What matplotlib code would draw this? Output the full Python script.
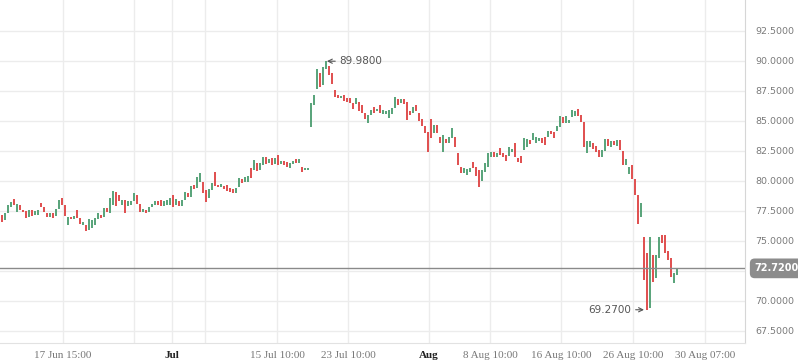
import matplotlib
matplotlib.use('Agg')
import matplotlib.pyplot as plt
import numpy as np

# candle data (one bar every ~3 px)
opens = [77.2, 76.75, 77.3, 77.8, 78.5, 77.4, 78.0, 77.6, 77.5, 77.0,
         77.6, 77.2, 77.2, 78.2, 77.8, 77.3, 77.0, 77.3, 77.1, 77.7,
         78.6, 78.0, 76.3, 77.0, 76.8, 77.6, 76.9, 76.3, 76.3, 75.9,
         76.1, 76.3, 76.8, 77.2, 77.0, 77.75, 77.3, 78.0, 79.1, 78.8,
         78.0, 78.4, 77.9, 78.0, 78.3, 78.8, 78.1, 77.4, 77.6, 77.4,
         77.8, 78.0, 78.3, 78.4, 77.9, 78.0, 78.0, 78.8, 78.0, 78.3,
         77.9, 78.4, 79.0, 78.7, 79.7, 79.4, 79.9, 79.9, 79.25, 78.6,
         79.25, 80.75, 79.7, 79.5, 79.6, 79.7, 79.4, 79.3, 79.0, 79.5,
         80.2, 79.9, 79.9, 81.1, 80.9, 81.5, 80.9, 81.3, 82.0, 81.5,
         81.9, 81.4, 82.2, 81.4, 81.7, 81.6, 81.1, 81.4, 81.8, 81.5,
         81.2, 80.9, 80.95, 84.5, 86.3, 87.7, 89.0, 88.0, 89.3, 89.6,
         89.0, 87.6, 87.2, 86.9, 87.2, 86.9, 86.9, 86.5, 86.4, 86.6,
         86.3, 85.7, 84.8, 85.5, 86.2, 85.8, 86.3, 85.6, 85.6, 85.25,
         85.6, 86.1, 86.8, 86.5, 86.8, 86.6, 85.8, 85.7, 86.3, 85.7,
         85.2, 84.6, 84.1, 85.2, 84.0, 84.7, 83.7, 82.4, 83.5, 83.2,
         83.6, 83.7, 82.3, 81.2, 80.7, 80.5, 80.75, 81.6, 81.2, 80.9,
         80.0, 80.75, 81.2, 82.0, 82.4, 82.0, 82.75, 82.3, 82.2, 82.1,
         82.4, 83.2, 81.9, 82.1, 82.6, 82.8, 83.4, 83.4, 83.2, 83.3,
         83.6, 83.7, 83.7, 84.2, 84.1, 84.2, 84.5, 85.3, 84.8, 84.8,
         85.3, 85.4, 86.0, 85.5, 84.9, 82.3, 82.8, 83.2, 82.9, 82.6,
         82.0, 82.5, 83.5, 82.8, 83.3, 82.9, 83.4, 82.5, 81.3, 80.6,
         81.3, 80.2, 78.8, 77.0, 75.3, 74.0, 69.4, 73.8, 71.9, 73.6,
         75.5, 75.5, 74.2, 73.6, 71.5, 72.2]

closes = [76.6, 77.3, 78.0, 78.25, 78.0, 78.1, 77.6, 77.4, 76.9, 77.6,
          77.1, 77.5, 77.6, 77.8, 77.4, 77.0, 77.3, 76.9, 77.7, 78.4,
          78.0, 77.1, 77.0, 76.8, 77.1, 76.9, 76.4, 76.6, 75.8, 76.8,
          76.75, 76.9, 77.3, 76.9, 77.75, 77.4, 78.6, 79.2, 77.9, 78.3,
          78.4, 77.3, 78.3, 78.3, 79.0, 78.1, 77.4, 77.7, 77.3, 77.8,
          78.1, 78.3, 78.0, 77.9, 78.3, 78.4, 78.6, 77.8, 78.5, 77.9,
          78.4, 79.1, 78.7, 79.6, 79.3, 80.3, 80.7, 79.0, 78.25, 79.3,
          79.8, 79.6, 79.5, 79.75, 79.3, 79.2, 79.1, 79.0, 79.4, 80.25,
          79.8, 80.3, 80.4, 80.25, 81.75, 80.8, 81.5, 82.0, 81.4, 81.8,
          81.3, 81.9, 81.3, 81.7, 81.3, 81.2, 81.5, 81.7, 81.5, 81.8,
          80.75, 81.1, 81.1, 86.5, 87.2, 89.3, 87.8, 89.5, 89.98, 88.8,
          88.1, 87.0, 86.9, 87.1, 86.7, 86.6, 86.5, 86.0, 86.9, 85.8,
          85.7, 85.2, 85.5, 85.9, 85.7, 86.0, 85.7, 85.9, 85.8, 85.9,
          86.1, 87.0, 86.3, 86.8, 86.4, 85.1, 85.5, 86.2, 85.8, 85.0,
          84.6, 84.0, 82.4, 83.6, 84.7, 84.0, 83.2, 83.8, 83.2, 83.7,
          84.4, 82.8, 81.3, 80.7, 81.1, 81.0, 81.1, 81.1, 80.4, 79.5,
          80.9, 81.5, 82.3, 82.4, 82.0, 82.3, 82.2, 82.0, 81.7, 82.8,
          82.7, 82.0, 81.6, 81.5, 83.6, 83.5, 83.1, 84.0, 83.7, 83.6,
          83.2, 83.0, 84.2, 83.9, 83.6, 84.6, 85.4, 84.8, 85.4, 85.1,
          85.9, 85.8, 85.4, 84.9, 82.8, 83.3, 83.3, 82.7, 82.4, 82.0,
          82.6, 83.5, 82.9, 83.3, 83.0, 83.4, 82.6, 81.3, 81.8, 81.2,
          80.2, 78.8, 76.4, 78.2, 71.75, 69.27, 75.3, 71.6, 73.8, 75.3,
          74.8, 74.0, 73.4, 72.0, 72.3, 72.72]

tick_pos = [20.3, 44, 56.7, 67.7, 91.7, 115.3, 142.3, 162.7, 186.3, 210.3, 234.3]
tick_labels = ['17 Jun 15:00', '', 'Jul', '', '15 Jul 10:00', '23 Jul 10:00',
               'Aug', '8 Aug 10:00', '16 Aug 10:00', '26 Aug 10:00', '30 Aug 07:00']
y_ticks = [67.5, 70.0, 72.5, 75.0, 77.5, 80.0, 82.5, 85.0, 87.5, 90.0, 92.5]
last_price = 72.72
high_idx, high_val = 108, 89.98
low_idx, low_val = 215, 69.27

verde = '#5ba57c'
vermelho = '#e05252'

o = np.array(opens)
c = np.array(closes)
x = np.arange(len(o))
cores = [verde if cc >= oo else vermelho for oo, cc in zip(o, c)]
altura = np.maximum(np.abs(c - o), 0.12)
base = np.minimum(o, c)

fig = plt.figure(figsize=(7.98, 3.63), dpi=100)
ax = fig.add_axes([0, 20 / 363, 745 / 798, 343 / 363])

ax.bar(x, altura, bottom=base, width=0.5, color=cores, linewidth=0, zorder=3)

ax.set_xlim(-0.67, 247.67)
ax.set_ylim(66.5, 95.08)

# o rotulo 72.5 fica escondido atras da caixa do ultimo preco
ax.set_yticks(y_ticks)
ax.set_yticklabels(['' if abs(v - last_price) < 1 else f'{v:.4f}' for v in y_ticks])
ax.yaxis.tick_right()
ax.tick_params(axis='y', length=0, pad=7.5, labelsize=6.8, labelcolor='#7a7a7a')

ax.set_xticks(tick_pos)
ax.set_xticklabels(tick_labels)
ax.tick_params(axis='x', length=0, pad=6)
for lbl in ax.get_xticklabels():
    lbl.set_fontfamily('Liberation Serif')
    lbl.set_fontsize(8)
    if lbl.get_text() in ('Jul', 'Aug'):
        lbl.set_fontweight('bold')
        lbl.set_color('#222222')
    else:
        lbl.set_color('#777777')

ax.grid(True, color='#ececec', linewidth=1, zorder=0)
for lado in ['top', 'left']:
    ax.spines[lado].set_visible(False)
ax.spines['right'].set_color('#d6d6d6')
ax.spines['bottom'].set_color('#e2e2e2')

# linha do ultimo preco
ax.axhline(last_price, color='#8a8a8a', linewidth=1, zorder=4)
ax.annotate(f'{last_price:.4f}', xy=(1.0, last_price), xycoords=('axes fraction', 'data'),
            xytext=(7, 0), textcoords='offset points', ha='left', va='center',
            fontsize=7, fontweight='bold', color='white', annotation_clip=False,
            bbox=dict(boxstyle='round,pad=0.5,rounding_size=0.5', facecolor='#8c8c8c',
                      edgecolor='none'))

# maxima e minima
ax.annotate(f'{high_val:.4f}', xy=(high_idx + 0.3, high_val), xytext=(9, 0),
            textcoords='offset points', ha='left', va='center', fontsize=7.5,
            color='#555555',
            arrowprops=dict(arrowstyle='->', color='#555555', lw=0.8,
                            shrinkA=1, shrinkB=0))
ax.annotate(f'{low_val:.4f}', xy=(low_idx - 1.0, low_val), xytext=(-9, 0),
            textcoords='offset points', ha='right', va='center', fontsize=7.5,
            color='#555555',
            arrowprops=dict(arrowstyle='->', color='#555555', lw=0.8,
                            shrinkA=1, shrinkB=0))

plt.savefig('out.png', dpi=100)
